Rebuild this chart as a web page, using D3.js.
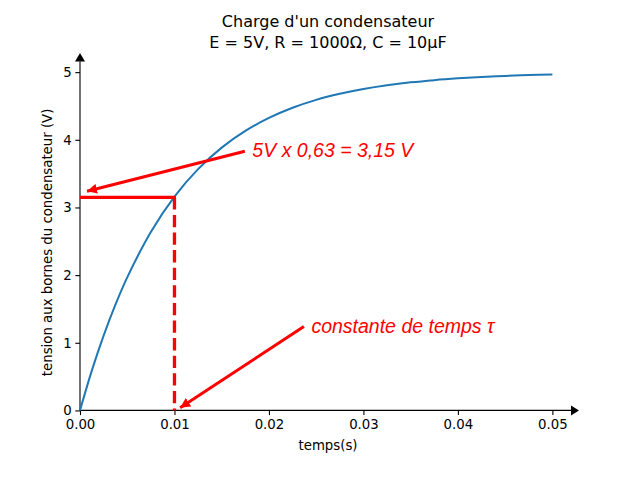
<!DOCTYPE html>
<html>
<head>
<meta charset="utf-8">
<script src="https://cdn.jsdelivr.net/npm/d3@7"></script>
<style>
  body { margin: 0; background: #fff; }
  svg { display: block; }
</style>
</head>
<body>
<div id="chart"></div>
<script>
// tension (s, V)
var temps = [0, 0.00125, 0.0025, 0.00375, 0.005, 0.0075, 0.01, 0.0125, 0.015, 0.0175, 0.02,
    0.0225, 0.025, 0.0275, 0.03, 0.0325, 0.035, 0.0375, 0.04, 0.0425, 0.045, 0.0475, 0.05];
var tension = [0, 0.588, 1.106, 1.563, 1.967, 2.638, 3.161, 3.567, 3.884, 4.131, 4.323,
    4.473, 4.590, 4.680, 4.751, 4.806, 4.849, 4.882, 4.908, 4.929, 4.944, 4.957, 4.966];
var xTicks = [0, 0.01, 0.02, 0.03, 0.04, 0.05];
var yTicks = [0, 1, 2, 3, 4, 5];
var tau = 0.01;
var v63 = 3.15;
// annotations: text/arrow tail point, arrow tip point
var annotations = [
    { label: "5V x 0,63 = 3,15 V", from: [0.01745, 3.83], to: [0.00074, 3.24] },
    { label: "constante de temps τ", from: [0.0237, 1.24], to: [0.0106, 0.04] }
];

var W = 640, H = 480;
var plotLeft = 80, plotRight = 576, plotTop = 57.6, plotBottom = 427.2;

var svg = d3.select("#chart")
    .append("svg")
        .attr("width", W)
        .attr("height", H);

var x = d3.scaleLinear().domain([0, 0.0525]).range([plotLeft, plotRight]);
var y = d3.scaleLinear().domain([-0.248, 5.215]).range([plotBottom, plotTop]);

var defs = svg.append("defs");
defs.append("marker")
    .attr("id", "redhead")
    .attr("viewBox", "0 0 10 10")
    .attr("refX", 10).attr("refY", 5)
    .attr("markerWidth", 10).attr("markerHeight", 10)
    .attr("markerUnits", "userSpaceOnUse")
    .attr("orient", "auto")
    .append("path")
        .attr("d", "M0,0 L10,5 L0,10 Z")
        .attr("fill", "red");

var font = "'DejaVu Sans', sans-serif";

// axes (spines at zero)
var xAxis = svg.append("g")
    .attr("transform", "translate(0," + y(0) + ")")
    .call(d3.axisBottom(x).tickValues(xTicks).tickSize(4.7).tickPadding(4.5)
        .tickFormat(d3.format(".2f")));
var yAxis = svg.append("g")
    .attr("transform", "translate(" + x(0) + ",0)")
    .call(d3.axisLeft(y).tickValues(yTicks).tickSize(4.7).tickPadding(3.5)
        .tickFormat(d3.format("d")));
[xAxis, yAxis].forEach(function(g) {
    g.select(".domain").remove();
    g.selectAll("line").attr("stroke", "black").attr("stroke-width", 1.1);
    g.selectAll("text").attr("font-family", font).attr("font-size", "13.3px").attr("fill", "black");
});

svg.append("line")
    .attr("x1", x(0)).attr("y1", y(0))
    .attr("x2", plotRight).attr("y2", y(0))
    .attr("stroke", "black").attr("stroke-width", 1.1);
svg.append("path")
    .attr("d", "M" + (plotRight - 5) + "," + (y(0) - 5) + " L" + (plotRight + 3) + "," + y(0) + " L" + (plotRight - 5) + "," + (y(0) + 5) + " Z")
    .attr("fill", "black");
svg.append("line")
    .attr("x1", x(0)).attr("y1", y(0))
    .attr("x2", x(0)).attr("y2", plotTop + 4)
    .attr("stroke", "black").attr("stroke-width", 1.1);
svg.append("path")
    .attr("d", "M" + (x(0) - 5) + "," + (plotTop + 4) + " L" + x(0) + "," + (plotTop - 4.5) + " L" + (x(0) + 5) + "," + (plotTop + 4) + " Z")
    .attr("fill", "black");

// charge curve
var pts = temps.map(function(t, i) { return [t, tension[i]]; });
svg.append("path")
    .datum(pts)
    .attr("d", d3.line()
        .x(function(d) { return x(d[0]); })
        .y(function(d) { return y(d[1]); })
        .curve(d3.curveCatmullRom.alpha(0.5)))
    .attr("fill", "none")
    .attr("stroke", "#1f77b4")
    .attr("stroke-width", 2);

// tau markers
svg.append("line")
    .attr("x1", x(0)).attr("y1", y(v63))
    .attr("x2", x(tau) + 1.5).attr("y2", y(v63))
    .attr("stroke", "red").attr("stroke-width", 3.3);
svg.append("line")
    .attr("x1", x(tau)).attr("y1", y(v63))
    .attr("x2", x(tau)).attr("y2", y(0))
    .attr("stroke", "red").attr("stroke-width", 3.3)
    .attr("stroke-dasharray", "12.3,5.3");

// annotations
annotations.forEach(function(a) {
    svg.append("line")
        .attr("x1", x(a.from[0])).attr("y1", y(a.from[1]))
        .attr("x2", x(a.to[0])).attr("y2", y(a.to[1]))
        .attr("stroke", "red").attr("stroke-width", 3)
        .attr("marker-end", "url(#redhead)");
    svg.append("text")
        .attr("x", x(a.from[0]) + 7.5)
        .attr("y", y(a.from[1]) + 6)
        .attr("font-family", "'Liberation Sans', Arial, sans-serif")
        .attr("font-style", "italic")
        .attr("font-size", "19.5px")
        .attr("fill", "red")
        .text(a.label);
});

// titles and labels
var title = svg.append("text")
    .attr("text-anchor", "middle")
    .attr("font-family", font)
    .attr("font-size", "16px");
title.append("tspan").attr("x", (plotLeft + plotRight) / 2).attr("y", 27).text("Charge d'un condensateur");
title.append("tspan").attr("x", (plotLeft + plotRight) / 2).attr("y", 48).text("E = 5V, R = 1000Ω, C = 10µF");

svg.append("text")
    .attr("x", (plotLeft + plotRight) / 2)
    .attr("y", 450)
    .attr("text-anchor", "middle")
    .attr("font-family", font)
    .attr("font-size", "13.3px")
    .text("temps(s)");

svg.append("text")
    .attr("transform", "translate(52," + (plotTop + plotBottom) / 2 + ") rotate(-90)")
    .attr("text-anchor", "middle")
    .attr("font-family", font)
    .attr("font-size", "13.3px")
    .text("tension aux bornes du condensateur (V)");
</script>
</body>
</html>
